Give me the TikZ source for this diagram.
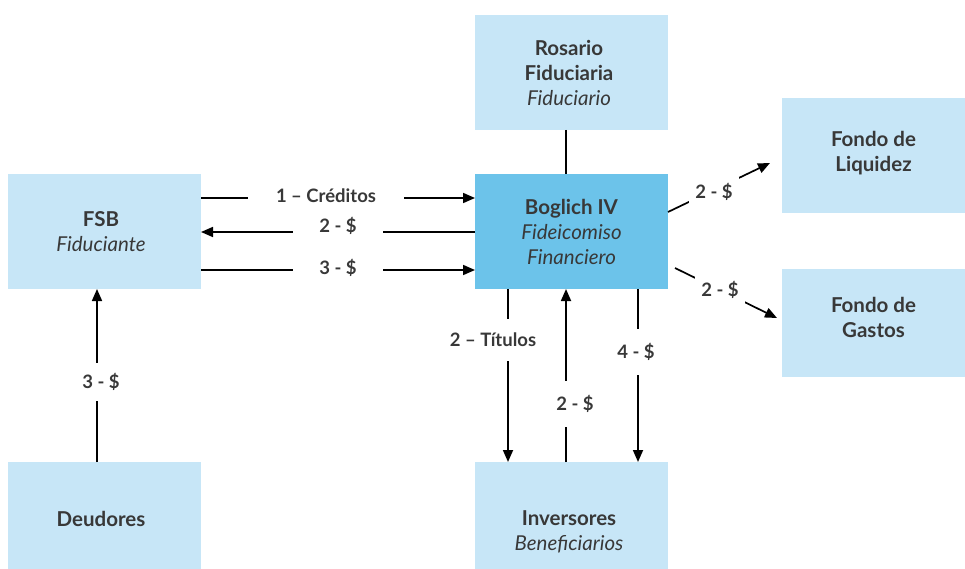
\documentclass[tikz,border=0pt]{standalone}
\usepackage{fontspec}
\setmainfont{Lato}
\usetikzlibrary{arrows.meta}
\definecolor{lightbox}{HTML}{C7E6F7}
\definecolor{darkbox}{HTML}{6CC3EA}
\definecolor{txt}{HTML}{383838}
\begin{document}
\begin{tikzpicture}[x=1pt,y=-1pt,
  box/.style={fill=none,draw=none,text=txt,align=center,font=\fontsize{20.5}{25}\selectfont},
  lab/.style={fill=white,text=txt,inner sep=4pt,font=\fontsize{18.5}{20}\selectfont\bfseries},
  conn/.style={line width=1.7pt,black},
  arr/.style={conn,-{Triangle[length=12pt,width=10pt]}}]
\useasboundingbox (0,0) rectangle (965,569);
% boxes
\path[fill=lightbox] (475,15) rectangle (668,130);
\node[box] (ros) at (569,72.5) {\textbf{Rosario}\\\textbf{Fiduciaria}\\\textit{Fiduciario}};
\path[fill=darkbox] (475,174) rectangle (668,289);
\node[box] (bog) at (571.5,231.5) {\textbf{Boglich IV}\\\textit{Fideicomiso}\\\textit{Financiero}};
\path[fill=lightbox] (8,174) rectangle (201,289);
\node[box] (fsb) at (101,231.5) {\textbf{FSB}\\\textit{Fiduciante}};
\path[fill=lightbox] (8,462) rectangle (201,569);
\node[box] (deu) at (101,519) {\textbf{Deudores}};
\path[fill=lightbox] (475,462) rectangle (668,569);
\node[box] (inv) at (569,532) {\textbf{Inversores}\\\textit{Beneficiarios}};
\path[fill=lightbox] (782,98) rectangle (965,213);
\node[box] (liq) at (873.5,153) {\textbf{Fondo de}\\\textbf{Liquidez}};
\path[fill=lightbox] (782,269) rectangle (965,377);
\node[box] (gas) at (873.5,317) {\textbf{Fondo de}\\\textbf{Gastos}};
% named anchor coordinates
\coordinate (a1s) at (201,198); \coordinate (a1e) at (475,198);
\coordinate (a2s) at (475,232); \coordinate (a2e) at (201,232);
\coordinate (a3s) at (201,270); \coordinate (a3e) at (475,270);
\coordinate (rb1) at (566,130); \coordinate (rb2) at (566,174);
\coordinate (d1) at (97,462); \coordinate (d2) at (97,289);
\coordinate (t1) at (508,289); \coordinate (t2) at (508,462);
\coordinate (i1) at (566,462); \coordinate (i2) at (566,289);
\coordinate (f1) at (638,289); \coordinate (f2) at (638,462);
\coordinate (l1) at (668,212); \coordinate (l2) at (770,163);
\coordinate (g1) at (675,268); \coordinate (g2) at (777,318);
% connectors
\draw[arr] (a1s) -- (a1e);
\draw[arr] (a2s) -- (a2e);
\draw[arr] (a3s) -- (a3e);
\draw[conn] (rb1) -- (rb2);
\draw[arr] (d1) -- (d2);
\draw[arr] (t1) -- (t2);
\draw[arr] (i1) -- (i2);
\draw[arr] (f1) -- (f2);
\draw[arr] (l1) -- (l2);
\draw[arr] (g1) -- (g2);
% labels
\node[lab,inner xsep=28pt] (lc) at (326,196) {1 – Créditos};
\node[lab,inner xsep=26pt] (l2d) at (338,226) {2 - \$};
\node[lab,inner xsep=26pt] (l3d) at (338,268) {3 - \$};
\node[lab,inner ysep=10pt] (ld) at (101,382) {3 - \$};
\node[lab,inner ysep=14pt] (lt) at (493,340) {2 – Títulos};
\node[lab,inner ysep=14pt] (li) at (575,404) {2 - \$};
\node[lab,inner ysep=14pt] (lf) at (636,352) {4 - \$};
\node[lab,inner sep=6pt] (lq) at (714,192) {2 - \$};
\node[lab,inner sep=6pt] (lg) at (720,290) {2 - \$};
\end{tikzpicture}
\end{document}
